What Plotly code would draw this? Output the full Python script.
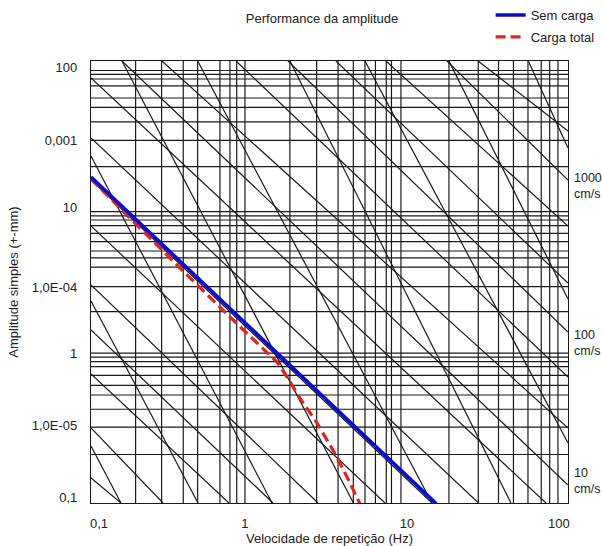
import math
import plotly.graph_objects as go

# ---------------- data ----------------
x_range_vals = [0.103, 117.7]          # frequency range of the chart (Hz)
y_range_vals = [0.0998, 100.0]         # amplitude range (mm)

# vertical grid lines (Hz)
x_grid = [0.199, 0.292, 0.402, 0.497, 0.691, 0.801, 0.885, 1.0,
          1.94, 2.88, 3.95, 4.95, 5.88, 6.86, 8.05, 8.69, 10.0,
          20.3, 31.3, 42.2, 52.6, 65.2, 79.3, 89.8, 101.5]
# horizontal grid lines (mm)
y_grid = [86.2, 81.2, 75.5, 67.7, 56.1, 48.5, 38.6, 28.9, 19.2,
          9.48, 8.87, 8.33, 7.62, 6.76, 5.93, 5.13, 4.60, 3.98, 2.94, 1.99,
          1.04, 0.976, 0.909, 0.841, 0.733, 0.627, 0.540, 0.432, 0.327, 0.213]

# constant-velocity lines: (f start, A start, f end, A end)
velocity_lines = [
    (0.103, 0.1476, 0.1603, 0.0998),
    (0.103, 0.3225, 0.298, 0.0998),
    (0.103, 0.750, 0.789, 0.0998),
    (0.103, 1.492, 1.512, 0.0998),
    (0.103, 3.015, 2.938, 0.0998),
    (0.103, 7.58, 7.90, 0.0998),
    (0.103, 15.56, 15.8, 0.0998),
    (0.103, 30.0, 31.4, 0.0998),
    (0.103, 76.7, 85.0, 0.0998),
    (0.1627, 100.0, 117.7, 0.1323),
    (0.2937, 100.0, 117.7, 0.3225),
    (0.876, 100.0, 117.7, 0.7156),
    (1.887, 100.0, 117.7, 1.446),
    (3.83, 100.0, 117.7, 3.11),
    (8.01, 100.0, 117.7, 7.58),
    (19.7, 100.0, 117.7, 15.56),
    (31.2, 100.0, 117.7, 33.5),
]
# constant-acceleration lines: (f start, A start, f end, A end)
acceleration_lines = [
    (0.103, 0.2434, 0.1603, 0.0998),
    (0.103, 2.348, 0.4997, 0.0998),
    (0.103, 22.65, 1.49, 0.0998),
    (0.1627, 100.0, 4.96, 0.0998),
    (0.4976, 100.0, 15.8, 0.0998),
    (1.943, 100.0, 50.7, 0.0998),
    (5.877, 100.0, 117.7, 0.255),
    (20.3, 100.0, 117.7, 2.423),
    (65.5, 100.0, 117.7, 25.7),
]

# performance curves
sem_carga_f = [0.103, 0.2, 0.5, 1.0, 2.0, 5.0, 10.0, 16.8]
sem_carga_a = [16.3, 8.38, 3.34, 1.665, 0.829, 0.331, 0.165, 0.099]
carga_total_f = [0.103, 0.2, 0.395, 0.838, 1.2, 1.604, 1.859, 2.25, 2.894, 3.889, 4.71, 5.47]
carga_total_a = [15.8, 7.82, 3.81, 1.745, 1.218, 0.905, 0.716, 0.515, 0.349, 0.205, 0.1365, 0.098]

# tick labels (as printed on the chart)
x_tick_vals = [0.1159, 1.0, 10.93, 103.0]
x_tick_text = ["0,1", "1", "10", "100"]
y_tick_vals = [91.0, 29.1, 10.2, 2.92, 1.04, 0.333, 0.1096]
y_tick_text = ["100", "0,001", "10", "1,0E-04", "1", "1,0E-05", "0,1"]

# velocity labels on the right (amplitude where they sit)
vel_label_text = ["1000<br>cm/s", "100<br>cm/s", "10<br>cm/s"]
vel_label_amp = [14.06, 1.227, 0.141]

# ---------------- figure ----------------
FONT = "Liberation Sans, Arial, sans-serif"
fig = go.Figure()

gx, gy = [], []
for v in x_grid:
    gx += [v, v, None]
    gy += [y_range_vals[0], y_range_vals[1], None]
for v in y_grid:
    gx += [x_range_vals[0], x_range_vals[1], None]
    gy += [v, v, None]
fig.add_trace(go.Scatter(x=gx, y=gy, mode="lines",
                         line=dict(color="#1a1a1a", width=1.2),
                         hoverinfo="skip", showlegend=False))

dx, dy = [], []
for (f1, a1, f2, a2) in velocity_lines + acceleration_lines:
    dx += [f1, f2, None]
    dy += [a1, a2, None]
fig.add_trace(go.Scatter(x=dx, y=dy, mode="lines",
                         line=dict(color="#1a1a1a", width=1.2),
                         hoverinfo="skip", showlegend=False))

fig.add_trace(go.Scatter(x=carga_total_f, y=carga_total_a, mode="lines",
                         name="Carga total", legendrank=2, legendgroup="b",
                         line=dict(color="#E32222", width=3.2, dash="10px,5px")))
fig.add_trace(go.Scatter(x=sem_carga_f, y=sem_carga_a, mode="lines",
                         name="Sem carga", legendrank=1, legendgroup="a",
                         line=dict(color="#0A0ACF", width=3.6)))

for txt, amp in zip(vel_label_text, vel_label_amp):
    fig.add_annotation(x=1, xref="paper", xanchor="left", xshift=4,
                       y=math.log10(amp), yref="y", yanchor="middle",
                       text=txt, showarrow=False, align="left",
                       font=dict(family=FONT, size=12.5, color="#222"))

fig.update_layout(
    width=602, height=546,
    margin=dict(l=91, r=34, t=61, b=43, autoexpand=False),
    paper_bgcolor="white", plot_bgcolor="white",
    font=dict(family=FONT, size=13, color="#222"),
    title=dict(text="Performance da amplitude", x=0.535, xref="container",
               xanchor="center", y=1 - 18 / 546, yref="container", yanchor="middle",
               font=dict(family=FONT, size=13, color="#222")),
    legend=dict(x=0.815, xref="container", y=1.0, yref="container",
                xanchor="left", yanchor="top", bgcolor="rgba(0,0,0,0)",
                font=dict(family=FONT, size=13, color="#222"),
                tracegroupgap=2),
    xaxis=dict(type="log",
               range=[math.log10(x_range_vals[0]), math.log10(x_range_vals[1])],
               showgrid=False, zeroline=False,
               showline=True, linecolor="#1a1a1a", linewidth=1.2, mirror=True,
               tickmode="array", tickvals=x_tick_vals, ticktext=x_tick_text,
               ticks="", ticklabelstandoff=8,
               title=dict(text="Velocidade de repetição (Hz)", standoff=4,
                          font=dict(family=FONT, size=13, color="#222"))),
    yaxis=dict(type="log",
               range=[math.log10(y_range_vals[0]), math.log10(y_range_vals[1])],
               showgrid=False, zeroline=False,
               showline=True, linecolor="#1a1a1a", linewidth=1.2, mirror=True,
               tickmode="array", tickvals=y_tick_vals, ticktext=y_tick_text,
               ticks="", ticklabelstandoff=10,
               title=dict(text="Amplitude simples (+-mm)", standoff=10,
                          font=dict(family=FONT, size=13, color="#222"))),
)

fig.write_html("out.html")
